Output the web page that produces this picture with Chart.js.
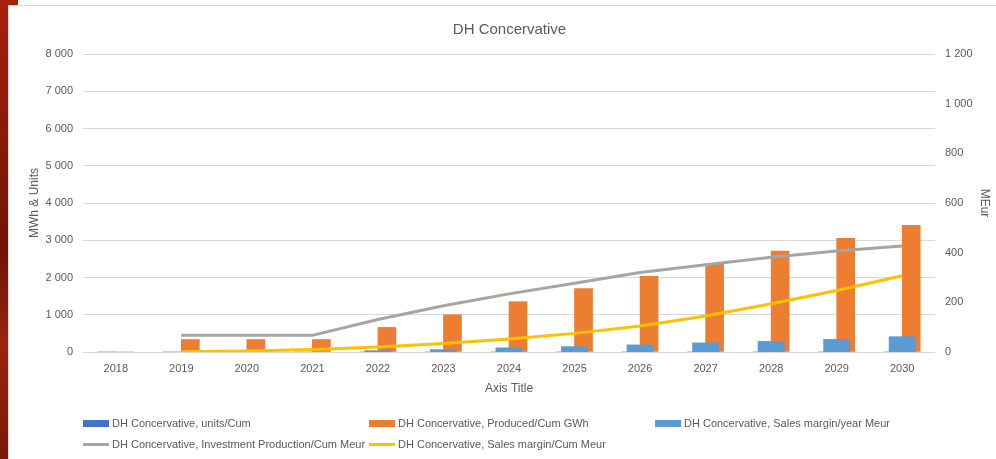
<!DOCTYPE html>
<html>
<head>
<meta charset="utf-8">
<script src="https://cdn.jsdelivr.net/npm/chart.js@4"></script>
<style>
  html, body { margin: 0; padding: 0; }
  body { width: 996px; height: 459px; position: relative; overflow: hidden; background: #fff;
         font-family: "Liberation Sans", Arial, sans-serif; }
  #edge { position: absolute; left: 0; top: 0; width: 8px; height: 459px;
          background: linear-gradient(180deg, #a8200c 0%, #8a1a08 30%, #6e1406 55%, #9a2410 75%, #7a1806 100%); }
  #edgeTop { position: absolute; left: 0; top: 0; width: 18px; height: 5px; background: #a8200c; }
  #panel { position: absolute; left: 8px; top: 5px; width: 988px; height: 454px;
           background: #fff; border-top: 1px solid #d9d9d9; border-left: 1px solid #d9d9d9; box-sizing: border-box; }
  #chart { position: absolute; left: 0; top: 0; }
  #legend { position: absolute; left: 83px; top: 415px; display: grid;
            grid-template-columns: 286px 286px 286px; row-gap: 5px;
            font-size: 11px; color: #595959; line-height: 16px; }
  #legend .item { display: flex; align-items: center; white-space: nowrap; }
  #legend .key { width: 26px; margin-right: 3px; }
</style>
</head>
<body>
<div id="edge"></div>
<div id="edgeTop"></div>
<div id="panel"></div>
<canvas id="chart" width="996" height="459"></canvas>
<div id="legend"></div>
<script>
var years = ['2018', '2019', '2020', '2021', '2022', '2023', '2024', '2025', '2026', '2027', '2028', '2029', '2030'];

// left axis (MWh & Units)
var unitsCum = [0, 0, 0, 0, 0, 0, 0, 0, 0, 0, 0, 0, 0];
var producedCum = [0, 335, 335, 335, 660, 1000, 1350, 1700, 2030, 2370, 2710, 3050, 3400];

// right axis (MEur)
var salesMarginYear = [0, 0, 0, 0, 7, 11, 18, 23, 30, 38, 44, 52, 63];
var investCum = [null, 67, 67, 67, 131, 186, 234, 277, 320, 351, 382, 407, 427];
var salesMarginCum = [null, 1, 4, 10, 20, 34, 52, 75, 105, 145, 194, 248, 307];

var leftTicks = [0, 1000, 2000, 3000, 4000, 5000, 6000, 7000, 8000];
var rightTicks = [0, 200, 400, 600, 800, 1000, 1200];

var textColor = '#595959';
var gridColor = '#d9d9d9';

function spaced(v) {
    return String(v).replace(/\B(?=(\d{3})+(?!\d))/g, ' ');
}

var ctx = document.getElementById('chart');

var chart = new Chart(ctx, {
    type: 'bar',
    data: {
        labels: years,
        datasets: [
            {
                label: 'DH Concervative, units/Cum',
                data: unitsCum,
                backgroundColor: '#4472c4',
                yAxisID: 'y',
                barThickness: 18,
                order: 2
            },
            {
                label: 'DH Concervative, Produced/Cum GWh',
                data: producedCum,
                backgroundColor: '#ed7d31',
                yAxisID: 'y',
                barThickness: 18,
                order: 3
            },
            {
                label: 'DH Concervative, Sales margin/year Meur',
                data: salesMarginYear,
                backgroundColor: '#5b9bd5',
                yAxisID: 'y1',
                grouped: false,
                categoryPercentage: 1,
                barPercentage: 0.41,
                order: 1
            },
            {
                type: 'line',
                label: 'DH Concervative, Investment Production/Cum Meur',
                data: investCum,
                borderColor: '#a5a5a5',
                backgroundColor: '#a5a5a5',
                borderWidth: 3,
                pointRadius: 0,
                yAxisID: 'y1',
                order: 0
            },
            {
                type: 'line',
                label: 'DH Concervative, Sales margin/Cum Meur',
                data: salesMarginCum,
                borderColor: '#ffc000',
                backgroundColor: '#ffc000',
                borderWidth: 3,
                pointRadius: 0,
                yAxisID: 'y1',
                order: 0
            }
        ]
    },
    options: {
        responsive: false,
        animation: false,
        layout: { padding: { left: 23, right: 0, top: 0, bottom: 57 } },
        plugins: {
            legend: { display: false },
            tooltip: { enabled: false },
            title: {
                display: true,
                text: 'DH Concervative',
                color: textColor,
                font: { family: 'Liberation Sans', size: 15, weight: 'normal' },
                padding: { top: 21, bottom: 15 }
            }
        },
        scales: {
            x: {
                grid: { display: false },
                border: { display: false },
                ticks: { color: textColor, font: { family: 'Liberation Sans', size: 11 }, padding: 2 },
                title: { display: true, text: 'Axis Title', color: textColor,
                         font: { family: 'Liberation Sans', size: 12 }, padding: { top: 4, bottom: 6 } },
                afterFit: function (scale) { scale.height = 50; }
            },
            y: {
                position: 'left',
                min: 0,
                max: 8000,
                afterBuildTicks: function (scale) {
                    scale.ticks = leftTicks.map(function (v) { return { value: v }; });
                },
                grid: { color: gridColor, drawTicks: false },
                border: { display: false },
                ticks: { color: textColor, font: { family: 'Liberation Sans', size: 11 }, padding: 10,
                         callback: function (v) { return spaced(v); } },
                title: { display: true, text: 'MWh & Units', color: textColor,
                         font: { family: 'Liberation Sans', size: 12 } },
                afterFit: function (scale) { scale.width = 60; }
            },
            y1: {
                position: 'right',
                min: 0,
                max: 1200,
                afterBuildTicks: function (scale) {
                    scale.ticks = rightTicks.map(function (v) { return { value: v }; });
                },
                grid: { display: false, drawTicks: false },
                border: { display: false },
                ticks: { color: textColor, font: { family: 'Liberation Sans', size: 11 }, padding: 10,
                         callback: function (v) { return spaced(v); } },
                title: { display: true, text: 'MEur', color: textColor,
                         font: { family: 'Liberation Sans', size: 12 } },
                afterFit: function (scale) { scale.width = 61; }
            }
        }
    }
});

// legend laid out in fixed columns, built from the datasets
var legend = document.getElementById('legend');
chart.data.datasets.forEach(function (ds) {
    var item = document.createElement('div');
    item.className = 'item';
    var key = document.createElement('span');
    key.className = 'key';
    key.style.background = ds.type === 'line' ? ds.borderColor : ds.backgroundColor;
    key.style.height = ds.type === 'line' ? '3px' : '7px';
    var txt = document.createElement('span');
    txt.textContent = ds.label;
    item.appendChild(key);
    item.appendChild(txt);
    legend.appendChild(item);
});
</script>
</body>
</html>
